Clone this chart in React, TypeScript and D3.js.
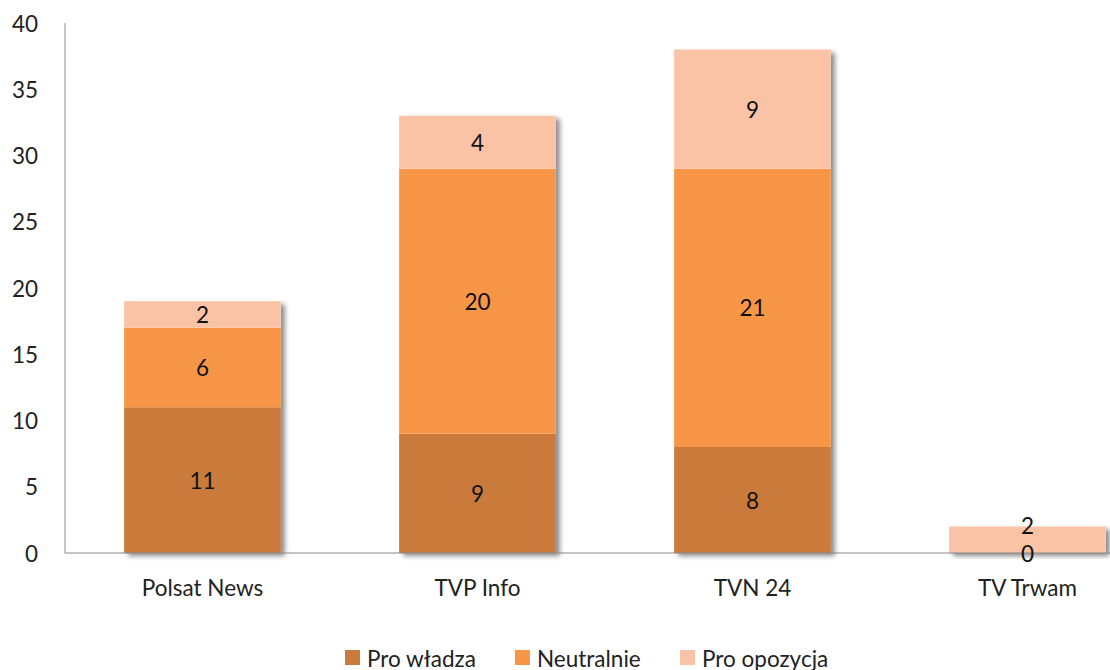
import * as d3 from 'd3'

const WIDTH = 1110
const HEIGHT = 670
const MARGIN = {top: 23, right: 0, bottom: 117, left: 65}

const categories = ['Polsat News', 'TVP Info', 'TVN 24', 'TV Trwam']
const seriesNames = ['Pro władza', 'Neutralnie', 'Pro opozycja']
const proWladza = [11, 9, 8, 0]
const neutralnie = [6, 20, 21, 0]
const proOpozycja = [2, 4, 9, 2]
const yTicks = [0, 5, 10, 15, 20, 25, 30, 35, 40]

const COLORS = ['#CA7A3A', '#F79646', '#FAC3A6']
const FONT = 'Lato, "Open Sans", sans-serif'
const FS = 22.5

export default function App() {
  const boundsHeight = HEIGHT - MARGIN.top - MARGIN.bottom

  const rows = categories.map((name, i) => ({
    name,
    'Pro władza': proWladza[i],
    Neutralnie: neutralnie[i],
    'Pro opozycja': proOpozycja[i],
  }))
  const stacked = d3.stack<any>().keys(seriesNames)(rows)

  const yScale = d3.scaleLinear().domain([0, 40]).range([boundsHeight, 0])
  // 4 bands continue past the right edge, like the original
  const xScale = d3
    .scaleBand()
    .domain(categories)
    .range([0, 1100])
    .paddingInner(0.43)
    .paddingOuter(0.215)

  const bw = xScale.bandwidth()

  // data labels; zero-height segments share one label, and the segment
  // above a zero label gets pushed up so both stay readable
  const labels: {key: string; x: number; y: number; text: number}[] = []
  categories.forEach(c => {
    let zeroShown = false
    stacked.forEach(s => {
      const d = s.find(p => p.data.name === c)
      if (!d) return
      const v = d[1] - d[0]
      const x = (xScale(c) ?? 0) + bw / 2
      if (v === 0) {
        if (zeroShown) return
        zeroShown = true
        labels.push({key: s.key + c, x, y: yScale(d[0]), text: 0})
        return
      }
      let y = (yScale(d[0]) + yScale(d[1])) / 2
      if (zeroShown && yScale(d[0]) - y < 20) y = yScale(d[0]) - 28
      labels.push({key: s.key + c, x, y, text: v})
    })
  })

  return (
    <svg
      width={WIDTH}
      height={HEIGHT}
      style={{position: 'absolute', left: 0, top: 0, background: '#fff'}}
      fontFamily={FONT}>
      <defs>
        <filter id="shadow" x="-10%" y="-10%" width="130%" height="130%">
          <feDropShadow dx={4} dy={3} stdDeviation={2.5} floodColor="#000" floodOpacity={0.45} />
        </filter>
      </defs>
      <g transform={`translate(${MARGIN.left},${MARGIN.top})`}>
        {yTicks.map(t => (
          <text
            key={t}
            x={-27}
            y={yScale(t)}
            textAnchor="end"
            dominantBaseline="central"
            fontSize={FS}
            fill="#222">
            {t}
          </text>
        ))}

        {categories.map(c => {
          const x0 = xScale(c) ?? 0
          const total = stacked[stacked.length - 1].find(d => d.data.name === c)?.[1] ?? 0
          return (
            <rect
              key={c}
              x={x0}
              y={yScale(total)}
              width={bw}
              height={yScale(0) - yScale(total)}
              fill="#fff"
              filter="url(#shadow)"
            />
          )
        })}

        {stacked.map((s, si) =>
          s.map(d => (
            <rect
              key={s.key + d.data.name}
              x={xScale(d.data.name)}
              y={yScale(d[1])}
              width={bw}
              height={yScale(d[0]) - yScale(d[1])}
              fill={COLORS[si]}
            />
          )),
        )}

        <line x1={0} x2={0} y1={0} y2={boundsHeight} stroke="#888" strokeWidth={1} />
        <line x1={0} x2={WIDTH} y1={boundsHeight} y2={boundsHeight} stroke="#888" strokeWidth={1} />

        {labels.map(l => (
          <text
            key={'l' + l.key}
            x={l.x}
            y={l.y}
            textAnchor="middle"
            dominantBaseline="central"
            fontSize={FS}
            fill="#111">
            {l.text}
          </text>
        ))}

        {categories.map(c => (
          <text
            key={'c' + c}
            x={(xScale(c) ?? 0) + bw / 2}
            y={boundsHeight + 34}
            textAnchor="middle"
            dominantBaseline="central"
            fontSize={FS}
            fill="#222">
            {c}
          </text>
        ))}
      </g>

      <g transform="translate(345,658)">
        {seriesNames.map((n, i) => {
          const offsets = [0, 170, 335]
          return (
            <g key={n} transform={`translate(${offsets[i]},0)`}>
              <rect x={0} y={-8} width={15} height={15} fill={COLORS[i]} />
              <text x={22} y={0} dominantBaseline="central" fontSize={FS} fill="#222">
                {n}
              </text>
            </g>
          )
        })}
      </g>
    </svg>
  )
}
